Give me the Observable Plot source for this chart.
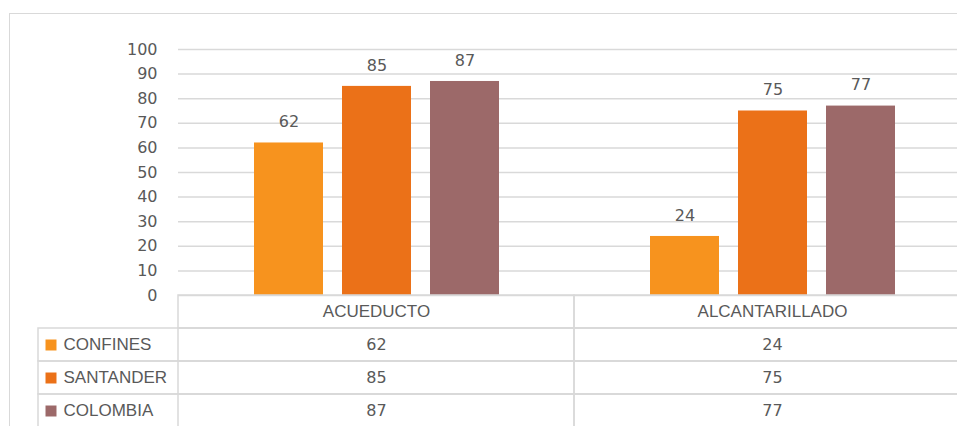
<!DOCTYPE html>
<html><head><meta charset="utf-8">
<script src="https://cdn.jsdelivr.net/npm/d3@7"></script>
<script src="https://cdn.jsdelivr.net/npm/@observablehq/plot@0.6"></script>
<style>
body{margin:0;background:#fff;}
#wrap{position:relative;width:957px;height:426px;overflow:hidden;background:#fff;}
#wrap svg{display:block;background:transparent;overflow:visible;position:absolute;left:0;max-width:none !important;width:970px;}
#frame{position:absolute;left:9px;top:13px;width:2000px;height:2000px;border:1.5px solid #d9d9d9;pointer-events:none;z-index:5;}
</style></head><body>
<div id="wrap"><div id="frame"></div></div>
<script>
const categories = ["ACUEDUCTO", "ALCANTARILLADO"];
const series = ["CONFINES", "SANTANDER", "COLOMBIA"];
const confines = [62, 24];
const santander = [85, 75];
const colombia = [87, 77];
const yTicks = [0, 10, 20, 30, 40, 50, 60, 70, 80, 90, 100];

const seriesValues = [confines, santander, colombia];
const colors = ["#F7931E", "#EB7118", "#9C6969"];
const data = series.flatMap((s, i) => categories.map((c, j) => ({series: s, category: c, value: seriesValues[i][j]})));

const font = "'Liberation Sans', Arial, sans-serif";
const numFont = "'DejaVu Sans', sans-serif";
const textColor = "#595959";
const grid = "#d9d9d9";
const fs = 17;
const nfs = 16;

const chart = Plot.plot({
  width: 970, height: 306,
  marginTop: 49, marginBottom: 11, marginLeft: 178, marginRight: 0,
  style: {fontFamily: font, fontSize: fs + "px", color: textColor, background: "transparent"},
  fx: {domain: categories, paddingInner: 0, paddingOuter: 0, axis: null, label: null},
  x: {domain: series, paddingInner: 0.216, paddingOuter: 0.858, axis: null, label: null},
  y: {domain: [0, 100], axis: null, label: null},
  color: {domain: series, range: colors},
  facet: {marginTop: 0, marginRight: 0, marginBottom: 0, marginLeft: 0},
  marks: [
    Plot.gridY(yTicks, {stroke: grid, strokeOpacity: 1, strokeWidth: 1.5}),
    Plot.axisY(yTicks, {tickSize: 0, tickPadding: 21, fontSize: nfs, fontFamily: numFont, fill: textColor, label: null}),
    Plot.barY(data, {fx: "category", x: "series", y: "value", fill: "series"}),
    Plot.text(data, {fx: "category", x: "series", y: "value", text: "value", dy: -21, fontSize: nfs, fontFamily: numFont, fill: textColor})
  ]
});

const HEADER = " ";
const table = Plot.plot({
  width: 970, height: 131,
  marginTop: 0, marginBottom: -1, marginLeft: 178, marginRight: 0,
  style: {fontFamily: font, fontSize: fs + "px", color: textColor, background: "transparent"},
  x: {domain: categories, padding: 0, axis: null},
  y: {domain: [HEADER, ...series], padding: 0, axis: null},
  color: {domain: series, range: colors},
  marks: [
    Plot.cell(series, {y: d => d, stroke: grid, strokeWidth: 1.5, fill: "none", insetLeft: -140}),
    Plot.cell(categories, {x: d => d, y: () => HEADER, stroke: grid, strokeWidth: 1.5, fill: "none"}),
    Plot.cell(data, {x: "category", y: "series", stroke: grid, strokeWidth: 1.5, fill: "none"}),
    Plot.text(categories, {x: d => d, y: () => HEADER, text: d => d, fill: textColor, fontSize: fs}),
    Plot.text(data, {x: "category", y: "series", text: "value", fill: textColor, fontSize: nfs, fontFamily: numFont}),
    Plot.dot(series, {y: d => d, fill: d => d, symbol: "square", r: 6.2, frameAnchor: "left", dx: -127.5}),
    Plot.text(series, {y: d => d, text: d => d, frameAnchor: "left", textAnchor: "start", dx: -115, fill: textColor, fontSize: fs})
  ]
});

chart.style.top = "0px";
table.style.top = "295px";
const wrap = document.getElementById("wrap");
wrap.appendChild(chart);
wrap.appendChild(table);
</script>
</body></html>
